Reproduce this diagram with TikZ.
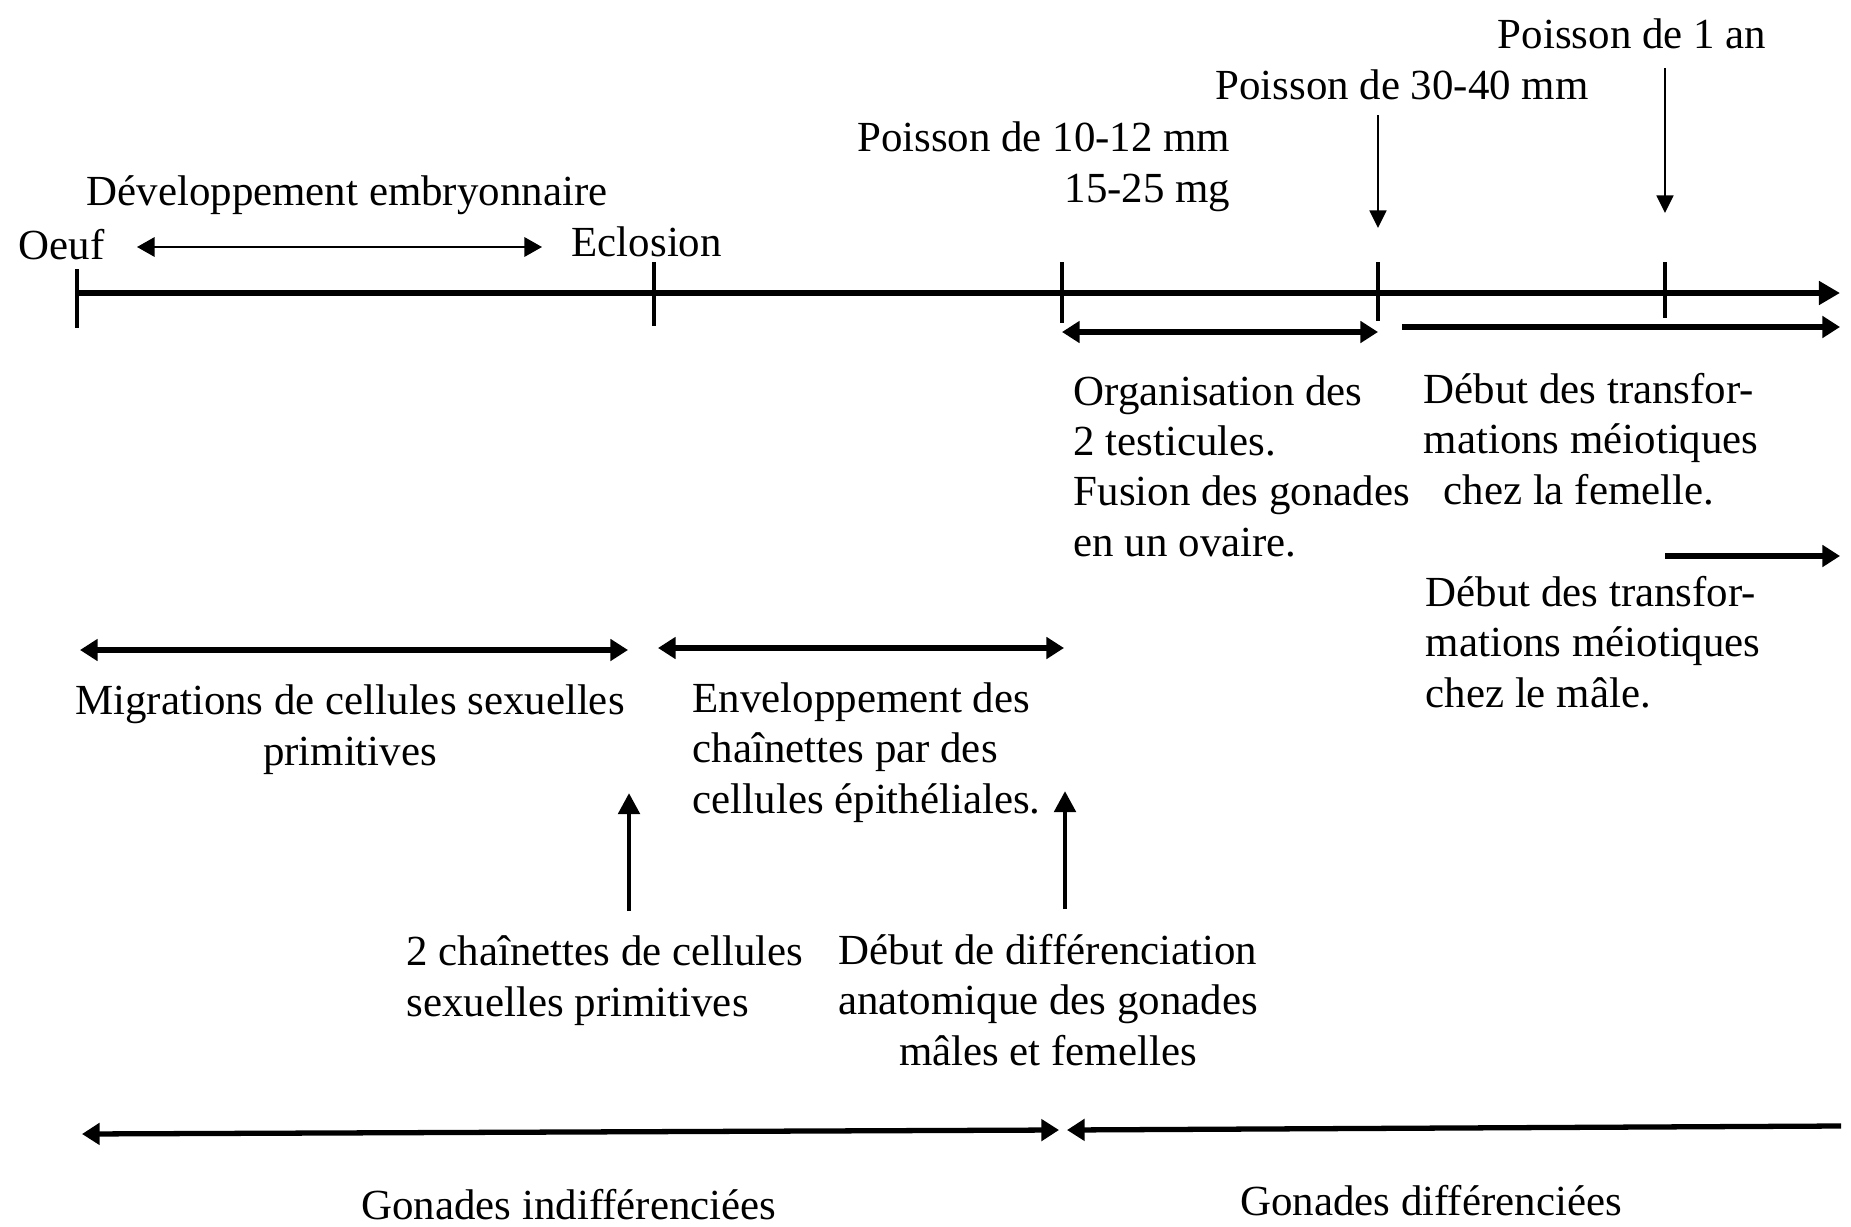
\documentclass[tikz,border=0pt]{standalone}
\usepackage{fontspec}
\setmainfont{Liberation Serif}
\usetikzlibrary{arrows.meta}
\begin{document}
\begin{tikzpicture}[x=0.01cm,y=-0.01cm,
  txt/.style={inner sep=0pt, font=\fontsize{12.2}{14.3}\selectfont},
  axisline/.style={line width=1.5pt, -{Triangle[length=6pt,width=6.5pt]}},
  tickline/.style={line width=1.1pt},
  thinarr/.style={line width=0.6pt, -{Triangle[length=5pt,width=4.8pt]}},
  thinboth/.style={line width=0.6pt, {Triangle[length=5pt,width=5.5pt]}-{Triangle[length=5pt,width=5.5pt]}},
  bigboth/.style={line width=1.5pt, {Triangle[length=5pt,width=6pt]}-{Triangle[length=5pt,width=6pt]}},
  bigright/.style={line width=1.5pt, -{Triangle[length=5pt,width=6pt]}},
  bigleft/.style={line width=1.5pt, {Triangle[length=5pt,width=6pt]}-},
  uparr/.style={line width=1.4pt, -{Triangle[length=6pt,width=6pt]}},
]
\useasboundingbox[fill=white] (0,0) rectangle (1851,1227);

% ---- texts (multi-line nodes: base anchor = last line)
\node[txt, anchor=base] (p1an) at (1632,48) {Poisson de 1 an};
\node[txt, anchor=base] (p3040) at (1402,99) {Poisson de 30-40 mm};
\node[txt, anchor=base east, align=right] (p1012) at (1231,202) {Poisson de 10-12 mm\\15-25 mg};
\node[txt, anchor=base west] (dev) at (86,205) {Développement embryonnaire};
\node[txt, anchor=base west] (oeuf) at (18,259) {Oeuf};
\node[txt, anchor=base west] (eclo) at (571,256) {Eclosion};
\node[txt, anchor=base west, align=left] (org) at (1073,556) {Organisation des\\2 testicules.\\Fusion des gonades\\en un ovaire.};
\node[txt, anchor=base west, align=left] (fem) at (1423,504) {Début des transfor-\\mations méiotiques\\\hspace*{5.7pt}chez la femelle.};
\node[txt, anchor=base west, align=left] (male) at (1425,707) {Début des transfor-\\mations méiotiques\\chez le mâle.};
\node[txt, anchor=base, align=center] (migr) at (350,765) {Migrations de cellules sexuelles\\primitives};
\node[txt, anchor=base west, align=left] (env) at (692,813) {Enveloppement des\\chaînettes par des\\cellules épithéliales.};
\node[txt, anchor=base west, align=left] (chain) at (406,1016) {2 chaînettes de cellules\\sexuelles primitives};
\node[txt, anchor=base, align=center] (diff) at (1048,1065) {Début de différenciation\\anatomique des gonades\\mâles et femelles};
\node[txt, anchor=base] (gind) at (569,1219) {Gonades indifférenciées};
\node[txt, anchor=base] (gdif) at (1431,1215) {Gonades différenciées};

% ---- coordinates
\coordinate (axL) at (77,293);
\coordinate (axR) at (1840,293);
\coordinate (t0a) at (77,269);   \coordinate (t0b) at (77,328);
\coordinate (t1a) at (654,262);  \coordinate (t1b) at (654,326);
\coordinate (t2a) at (1062,262); \coordinate (t2b) at (1062,323);
\coordinate (t3a) at (1378,262); \coordinate (t3b) at (1378,321);
\coordinate (t4a) at (1665,262); \coordinate (t4b) at (1665,318);
\coordinate (devL) at (137,247); \coordinate (devR) at (542,247);
\coordinate (d3a) at (1378,115); \coordinate (d3b) at (1378,228);
\coordinate (d4a) at (1665,68);  \coordinate (d4b) at (1665,213);
\coordinate (orgL) at (1062,332); \coordinate (orgR) at (1378,332);
\coordinate (femL) at (1402,327); \coordinate (femR) at (1840,327);
\coordinate (malL) at (1665,556); \coordinate (malR) at (1840,556);
\coordinate (migL) at (80,650);  \coordinate (migR) at (628,650);
\coordinate (envL) at (658,648); \coordinate (envR) at (1064,648);
\coordinate (u1a) at (629,911);  \coordinate (u1b) at (629,793);
\coordinate (u2a) at (1065,909); \coordinate (u2b) at (1065,791);
\coordinate (bL) at (82,1134);   \coordinate (bM1) at (1059,1130);
\coordinate (bM2) at (1067,1130); \coordinate (bR) at (1841,1126);

% ---- axis and ticks
\draw[axisline] (axL) -- (axR);
\draw[tickline] (t0a) -- (t0b);
\draw[tickline] (t1a) -- (t1b);
\draw[tickline] (t2a) -- (t2b);
\draw[tickline] (t3a) -- (t3b);
\draw[tickline] (t4a) -- (t4b);

% ---- arrows
\draw[thinboth] (devL) -- (devR);
\draw[thinarr] (d3a) -- (d3b);
\draw[thinarr] (d4a) -- (d4b);
\draw[bigboth] (orgL) -- (orgR);
\draw[bigright] (femL) -- (femR);
\draw[bigright] (malL) -- (malR);
\draw[bigboth] (migL) -- (migR);
\draw[bigboth] (envL) -- (envR);
\draw[uparr] (u1a) -- (u1b);
\draw[uparr] (u2a) -- (u2b);
\draw[bigboth] (bL) -- (bM1);
\draw[bigleft] (bM2) -- (bR);
\end{tikzpicture}
\end{document}
